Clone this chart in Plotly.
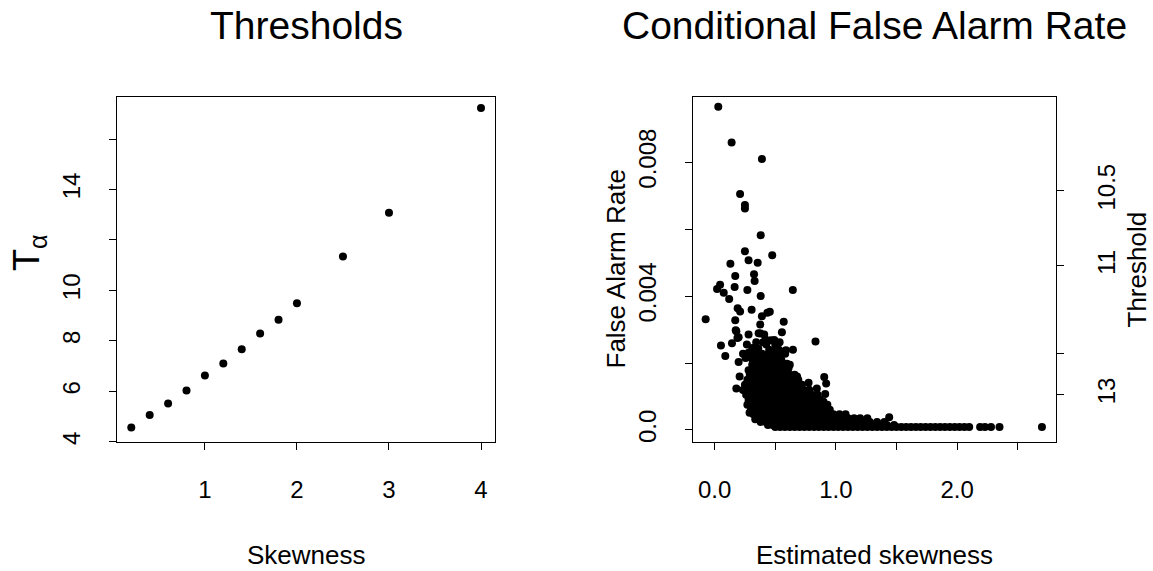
import plotly.graph_objects as go

# ---------------- Left panel data ----------------
skewness = [0.2, 0.4, 0.6, 0.8, 1.0, 1.2, 1.4, 1.6, 1.8, 2.0, 2.5, 3.0, 4.0]
t_alpha = [4.57, 5.06, 5.52, 6.03, 6.63, 7.10, 7.67, 8.29, 8.84, 9.49, 11.35, 13.08, 17.23]
left_xtick_vals = [1, 2, 3, 4]
left_xtick_text = ["1", "2", "3", "4"]
left_ytick_vals = [4, 6, 8, 10, 14]
left_ytick_text = ["4", "6", "8", "10", "14"]
left_yminor_vals = [12, 16]

# ---------------- Right panel data ----------------
# isolated points (estimated skewness, false alarm rate)
sparse_skew = [0.03, 0.14, 0.39, 0.21, 0.25, 0.25, 0.38, 0.25, 0.475, 0.28, 0.355, 0.13, 0.17, 0.325,
               0.33, 0.045, 0.02, 0.075, 0.165, 0.27, 0.645, 0.12, 0.38, 0.19, 0.21, 0.305, -0.074,
               0.17, 0.435, 0.455, 0.39, 0.57, 0.376, 0.179, 0.198, 0.28, 0.363, 0.409, 0.555, 0.052,
               0.143, 0.266, 0.343, 0.426, 0.492, 0.536, 0.832, 0.088, 0.234, 0.308, 0.39, 0.459,
               0.582, 0.646, 0.198, 0.349, 0.527, 0.596, 0.28, 0.39, 0.486, 0.206, 0.321, 0.582,
               0.651, 0.904, 0.92, 0.775, 0.843, 0.912, 0.706, 0.747, 0.179, 0.234, 0.28, 0.857,
               0.898, 0.288, 0.335, 1.44,
               0.174, 0.188, 0.38, 0.464, 0.506, 0.56, 0.588, 0.46, 0.36, 0.28, 0.42, 0.45,
               0.31, 0.50, 0.62, 0.53, 0.40, 0.255, 0.61, 0.68]
sparse_far = [0.00966, 0.00859, 0.00810, 0.00705, 0.00672, 0.00662, 0.00582, 0.00534, 0.00522,
              0.00507, 0.00500, 0.00497, 0.00460, 0.00465, 0.00445, 0.00434, 0.00421, 0.00410,
              0.00427, 0.00418, 0.00418, 0.00391, 0.00400, 0.00364, 0.00354, 0.00359, 0.00331,
              0.00328, 0.00350, 0.00353, 0.00340, 0.00323, 0.00315, 0.00295, 0.00277, 0.00285,
              0.00289, 0.00285, 0.00292, 0.00252, 0.00259, 0.00255, 0.00262, 0.00255, 0.00269,
              0.00262, 0.00264, 0.00221, 0.00228, 0.00213, 0.00228, 0.00230, 0.00228, 0.00240,
              0.00203, 0.00203, 0.00203, 0.00198, 0.00178, 0.00188, 0.00178, 0.00160, 0.00163,
              0.00170, 0.00153, 0.00158, 0.00139, 0.00141, 0.00124, 0.00107, 0.00124, 0.00114,
              0.00124, 0.00119, 0.00131, 0.00089, 0.00084, 0.00051, 0.00032, 0.00038,
              0.00298, 0.00275, 0.00288, 0.00268, 0.00243, 0.00232, 0.00238, 0.00228, 0.00243,
              0.00231, 0.00270, 0.00240, 0.00245, 0.00255, 0.00195, 0.00240, 0.00262, 0.00215,
              0.00185, 0.00160]

# dense cloud, read row by row (false alarm level, skewness values on that level)
dense_far_levels = [0.00225, 0.00210, 0.00195, 0.00180, 0.00165, 0.00150, 0.00135, 0.00120,
                    0.00105, 0.00090, 0.00075, 0.00060, 0.00047, 0.00035, 0.00024, 0.00015, 0.00009]
dense_skew_rows = [
    [0.33, 0.36, 0.42, 0.47, 0.52],
    [0.34, 0.38, 0.41, 0.44, 0.49, 0.55],
    [0.31, 0.35, 0.42, 0.46, 0.51, 0.56, 0.61],
    [0.33, 0.37, 0.41, 0.45, 0.52, 0.56, 0.60],
    [0.29, 0.34, 0.38, 0.43, 0.47, 0.50, 0.54, 0.62, 0.66],
    [0.27, 0.31, 0.36, 0.40, 0.44, 0.49, 0.53, 0.57, 0.61, 0.69],
    [0.25, 0.30, 0.34, 0.38, 0.42, 0.46, 0.51, 0.55, 0.59, 0.63, 0.67, 0.72],
    [0.27, 0.31, 0.35, 0.39, 0.43, 0.48, 0.52, 0.56, 0.60, 0.64, 0.68, 0.73, 0.78],
    [0.26, 0.30, 0.34, 0.38, 0.42, 0.46, 0.50, 0.54, 0.58, 0.62, 0.66, 0.71, 0.75, 0.80, 0.85],
    [0.28, 0.32, 0.36, 0.40, 0.44, 0.48, 0.52, 0.56, 0.60, 0.64, 0.68, 0.72, 0.77, 0.81, 0.87],
    [0.27, 0.31, 0.35, 0.39, 0.43, 0.47, 0.51, 0.55, 0.59, 0.63, 0.67, 0.71, 0.75, 0.79, 0.83,
     0.88, 0.93],
    [0.30, 0.34, 0.38, 0.42, 0.46, 0.50, 0.54, 0.58, 0.62, 0.66, 0.70, 0.74, 0.78, 0.82, 0.86,
     0.91, 0.95],
    [0.32, 0.36, 0.40, 0.44, 0.48, 0.52, 0.56, 0.60, 0.64, 0.68, 0.72, 0.76, 0.80, 0.84, 0.88,
     0.93, 0.98, 1.03, 1.08],
    [0.35, 0.39, 0.43, 0.47, 0.51, 0.55, 0.59, 0.63, 0.67, 0.71, 0.75, 0.79, 0.83, 0.87, 0.91,
     0.96, 1.00, 1.05, 1.10, 1.15, 1.20, 1.26],
    [0.38, 0.42, 0.46, 0.50, 0.54, 0.58, 0.62, 0.66, 0.70, 0.74, 0.78, 0.82, 0.86, 0.90, 0.94,
     0.98, 1.02, 1.07, 1.12, 1.17, 1.22, 1.28, 1.34, 1.40],
    [0.44, 0.48, 0.52, 0.56, 0.60, 0.64, 0.68, 0.72, 0.76, 0.80, 0.84, 0.88, 0.92, 0.96, 1.00,
     1.05, 1.10, 1.15, 1.20, 1.25, 1.30, 1.36, 1.42, 1.48],
    [0.50, 0.54, 0.58, 0.62, 0.66, 0.70, 0.74, 0.78, 0.82, 0.86, 0.90, 0.94, 0.98, 1.02, 1.06,
     1.10, 1.14, 1.18, 1.22, 1.26, 1.30, 1.34, 1.38, 1.42, 1.46, 1.50, 1.54, 1.58, 1.62, 1.66,
     1.70, 1.74, 1.78, 1.82, 1.86, 1.90, 1.94, 1.98, 2.02, 2.06, 2.10, 2.19, 2.23, 2.28, 2.35,
     2.70],
]

right_xtick_vals = [0.0, 1.0, 2.0]
right_xtick_text = ["0.0", "1.0", "2.0"]
right_xminor_vals = [0.5, 1.5, 2.5]
right_ytick_vals = [0.0, 0.004, 0.008]
right_ytick_text = ["0.0", "0.004", "0.008"]
right_yminor_vals = [0.002, 0.006]
# threshold axis: false alarm rate at which each threshold tick sits
threshold_labels = ["10.5", "11", "13"]
threshold_far = [0.007149, 0.004905, 0.001057]
threshold_minor_far = [0.002283]   # unlabelled tick (12)

est_skew = list(sparse_skew)
far_vals = list(sparse_far)
for lvl, row in zip(dense_far_levels, dense_skew_rows):
    est_skew.extend(row)
    far_vals.extend([lvl] * len(row))

# ---------------- Figure ----------------
W, H = 1153, 571
FONT = "Liberation Sans, Arial, Helvetica, sans-serif"
TICK_SIZE = 24
LAB_SIZE = 26
TITLE_SIZE = 39


def px(x):
    return x / W


def py(y):
    return 1 - y / H


box_top, box_bot = 96.7, 442.3
left_l, left_r = 117.3, 495.0
right_l, right_r = 693.3, 1056.0

fig = go.Figure()
marker = dict(color="black", size=8, line=dict(width=0))
fig.add_trace(go.Scatter(x=skewness, y=t_alpha, mode="markers", marker=marker,
                         xaxis="x", yaxis="y", hoverinfo="skip"))
fig.add_trace(go.Scatter(x=est_skew, y=far_vals, mode="markers", marker=marker,
                         xaxis="x2", yaxis="y2", hoverinfo="skip"))
# same points registered on the threshold axis (transparent) so that axis is drawn
fig.add_trace(go.Scatter(x=est_skew, y=far_vals, mode="markers",
                         marker=dict(color="black", size=8, opacity=0),
                         xaxis="x2", yaxis="y3", hoverinfo="skip"))

minor_common = dict(ticks="outside", ticklen=7, tickwidth=1, tickcolor="black", showgrid=False)
axis_common = dict(showgrid=False, zeroline=False, showline=True, linecolor="black", linewidth=1,
                   ticks="outside", ticklen=7, tickwidth=1, tickcolor="black",
                   tickfont=dict(family=FONT, size=TICK_SIZE, color="black"), mirror=True)

ydom = [py(box_bot), py(box_top)]
fig.update_layout(
    width=W, height=H, margin=dict(l=0, r=0, t=0, b=0, autoexpand=False),
    paper_bgcolor="white", plot_bgcolor="white", showlegend=False,
    xaxis=dict(axis_common, domain=[px(left_l), px(left_r)], anchor="y",
               range=[0.048, 4.152], tickmode="array", tickvals=left_xtick_vals,
               ticktext=left_xtick_text, ticklabelstandoff=19),
    yaxis=dict(axis_common, domain=ydom, anchor="x", range=[3.98, 17.68], tickmode="array",
               tickvals=left_ytick_vals, ticktext=left_ytick_text, tickangle=-90,
               ticklabelstandoff=20,
               minor=dict(minor_common, tickmode="array", tickvals=left_yminor_vals)),
    xaxis2=dict(axis_common, domain=[px(right_l), px(right_r)], anchor="y2",
                range=[-0.176, 2.816], tickmode="array", tickvals=right_xtick_vals,
                ticktext=right_xtick_text, ticklabelstandoff=19,
                minor=dict(minor_common, tickmode="array", tickvals=right_xminor_vals)),
    yaxis2=dict(axis_common, domain=ydom, anchor="x2", range=[-0.00037, 0.00996],
                tickmode="array", tickvals=right_ytick_vals, ticktext=right_ytick_text,
                tickangle=-90, ticklabelstandoff=20,
                minor=dict(minor_common, tickmode="array", tickvals=right_yminor_vals)),
    yaxis3=dict(axis_common, domain=ydom, anchor="x2", overlaying="y2", side="right",
                range=[-0.00037, 0.00996], tickmode="array", tickvals=threshold_far,
                ticktext=threshold_labels, tickangle=-90, showline=False, mirror=False,
                ticklabelstandoff=22,
                minor=dict(minor_common, tickmode="array", tickvals=threshold_minor_far)),
)

ann = []


def add_text(text, x, y, size, angle=0):
    ann.append(dict(text=text, x=px(x), y=py(y), xref="paper", yref="paper",
                    showarrow=False, textangle=angle, xanchor="center", yanchor="middle",
                    font=dict(family=FONT, size=size, color="black")))


add_text("Thresholds", (left_l + left_r) / 2, 25, TITLE_SIZE)
add_text("Conditional False Alarm Rate", (right_l + right_r) / 2, 25, TITLE_SIZE)
add_text("Skewness", (left_l + left_r) / 2, 555, LAB_SIZE)
add_text("Estimated skewness", (right_l + right_r) / 2, 555, LAB_SIZE)
add_text("T<sub>α</sub>", 29, 253, 36, -90)
add_text("False Alarm Rate", 615, (box_top + box_bot) / 2, LAB_SIZE, -90)
add_text("Threshold", 1136, (box_top + box_bot) / 2, LAB_SIZE, -90)
fig.update_layout(annotations=ann)

fig.write_html("out.html", config={"displayModeBar": False},
               post_script="document.body.style.margin='0';")
